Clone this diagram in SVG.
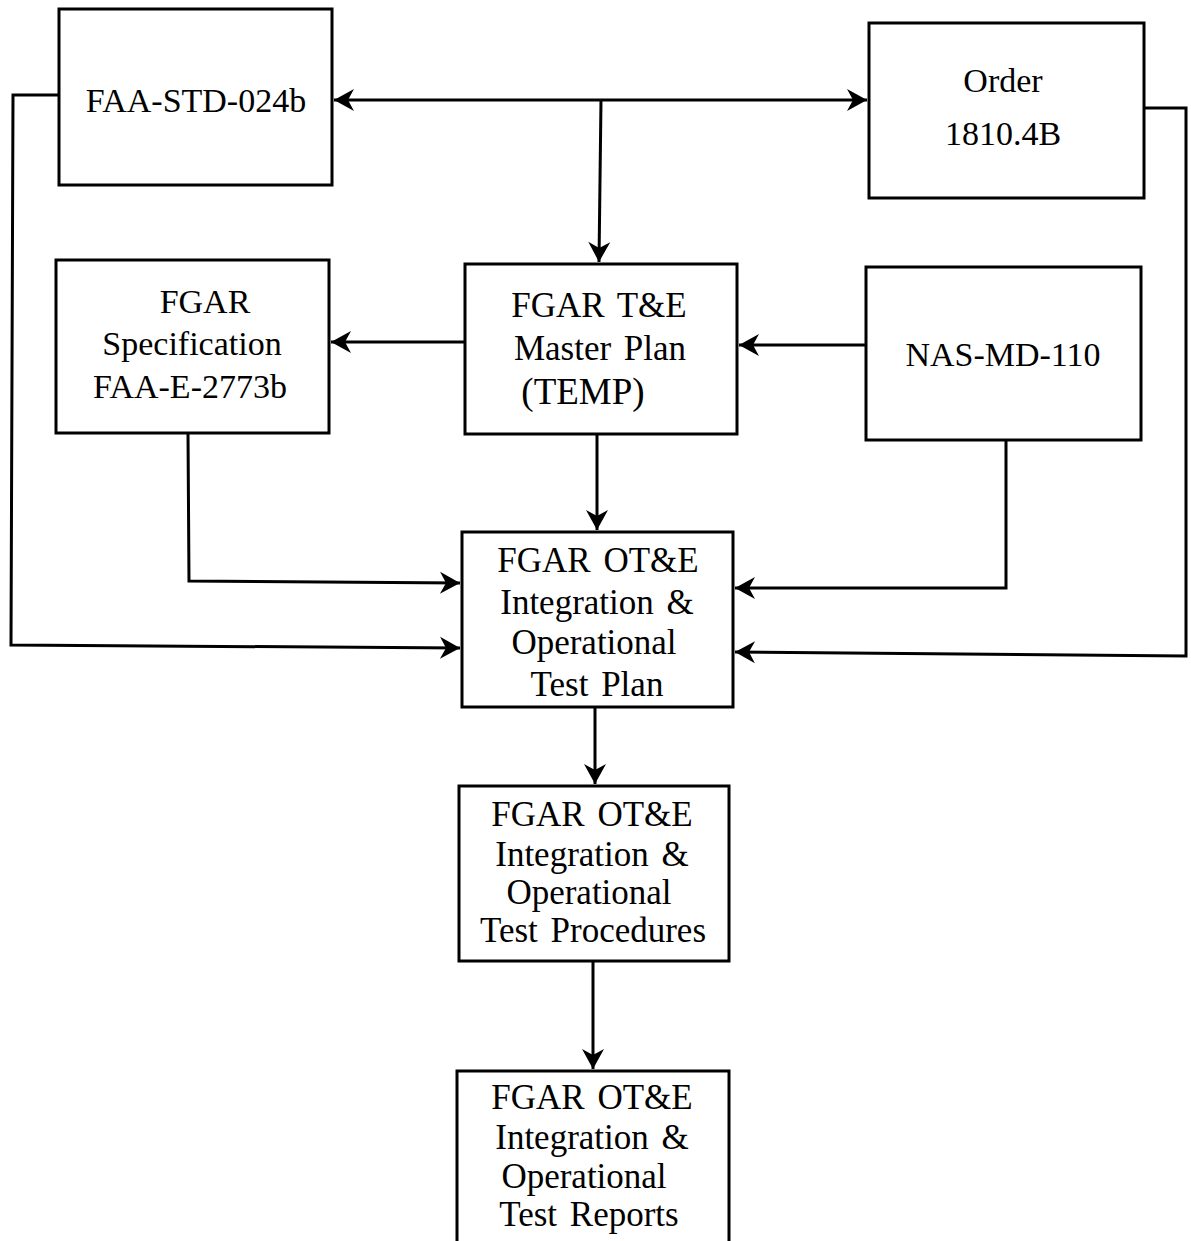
<svg xmlns="http://www.w3.org/2000/svg" width="1191" height="1241" viewBox="0 0 1191 1241">
<style>
.box{fill:#fff;stroke:#000;stroke-width:3}
.t{font-family:"Liberation Serif","Times New Roman",serif;font-size:34px;fill:#000;text-anchor:middle}
.t2{font-family:"Liberation Serif","Times New Roman",serif;font-size:35px;fill:#000;text-anchor:middle;word-spacing:4px}
.c{fill:none;stroke:#000;stroke-width:3}
</style>
<defs>
<marker id="ah" markerUnits="userSpaceOnUse" markerWidth="26" markerHeight="26" viewBox="-22 -13 26 26" refX="0" refY="0" orient="auto-start-reverse">
<path d="M0,0 L-20,-11 L-14,0 L-20,11 Z" fill="#000"/>
</marker>
</defs>
<rect width="1191" height="1241" fill="#fff"/>
<g id="connectors">
<path class="c" d="M334,100 L867,100" marker-start="url(#ah)" marker-end="url(#ah)"/>
<path class="c" d="M601,100 L599,262" marker-end="url(#ah)"/>
<path class="c" d="M59,95 L13,95 L11,645 L460,648" marker-end="url(#ah)"/>
<path class="c" d="M188,433 L189,581 L460,583" marker-end="url(#ah)"/>
<path class="c" d="M1006,440 L1006,588 L735,588" marker-end="url(#ah)"/>
<path class="c" d="M1144,108 L1186,108 L1186,656 L735,652" marker-end="url(#ah)"/>
<path class="c" d="M465,342 L331,342" marker-end="url(#ah)"/>
<path class="c" d="M866,345 L739,345" marker-end="url(#ah)"/>
<path class="c" d="M597,434 L597,530" marker-end="url(#ah)"/>
<path class="c" d="M595,707 L595,784" marker-end="url(#ah)"/>
<path class="c" d="M593,961 L593,1069" marker-end="url(#ah)"/>
</g>
<g id="faa-std">
<rect class="box" x="59" y="9" width="273" height="176"/>
<text class="t" x="196" y="112">FAA-STD-024b</text>
</g>
<g id="order">
<rect class="box" x="869" y="23" width="275" height="175"/>
<text class="t" x="1003" y="92">Order</text>
<text class="t" x="1003" y="145">1810.4B</text>
</g>
<g id="spec">
<rect class="box" x="56" y="260" width="273" height="173"/>
<text class="t" x="205" y="313">FGAR</text>
<text class="t" x="192" y="355">Specification</text>
<text class="t" x="190" y="398">FAA-E-2773b</text>
</g>
<g id="temp">
<rect class="box" x="465" y="264" width="272" height="170"/>
<text class="t2" x="599" y="317">FGAR T&amp;E</text>
<text class="t2" x="600" y="360">Master Plan</text>
<text class="t2" x="583" y="404" style="font-size:37px">(TEMP)</text>
</g>
<g id="nas">
<rect class="box" x="866" y="267" width="275" height="173"/>
<text class="t" x="1003" y="366">NAS-MD-110</text>
</g>
<g id="test-plan">
<rect class="box" x="462" y="532" width="271" height="175"/>
<text class="t2" x="598" y="572">FGAR OT&amp;E</text>
<text class="t2" x="597" y="614">Integration &amp;</text>
<text class="t2" x="594" y="654">Operational</text>
<text class="t2" x="597" y="696">Test Plan</text>
</g>
<g id="test-procedures">
<rect class="box" x="459" y="786" width="270" height="175"/>
<text class="t2" x="592" y="826">FGAR OT&amp;E</text>
<text class="t2" x="592" y="866">Integration &amp;</text>
<text class="t2" x="589" y="904">Operational</text>
<text class="t2" x="593" y="942">Test Procedures</text>
</g>
<g id="test-reports">
<rect class="box" x="457" y="1071" width="272" height="190"/>
<text class="t2" x="592" y="1109">FGAR OT&amp;E</text>
<text class="t2" x="592" y="1149">Integration &amp;</text>
<text class="t2" x="584" y="1188">Operational</text>
<text class="t2" x="589" y="1226">Test Reports</text>
</g>
</svg>
